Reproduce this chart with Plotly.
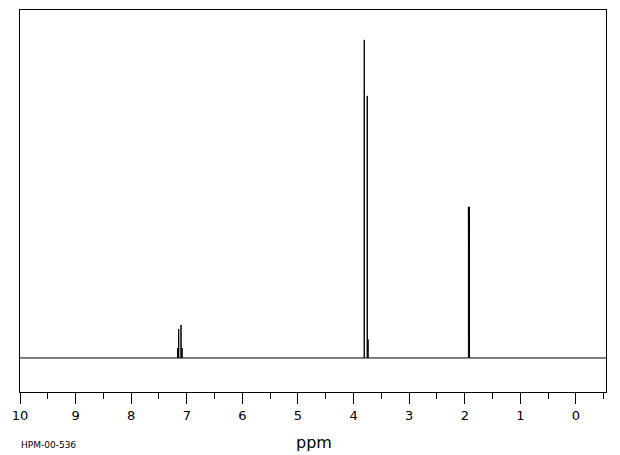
import plotly.graph_objects as go

# Peak list (ppm, relative intensity)
peak_ppm = [7.165, 7.146, 7.104, 7.085, 3.808, 3.754, 3.740, 1.935, 1.925, 1.915]
peak_int = [3.1, 9.1, 10.4, 3.1, 100.0, 82.4, 5.8, 47.5, 47.5, 47.5]

x_range = [10.0, -0.54]
tick_vals = [10, 9, 8, 7, 6, 5, 4, 3, 2, 1, 0]
tick_text = ["10", "9", "8", "7", "6", "5", "4", "3", "2", "1", "0"]
x_title = "ppm"
sample_id = "HPM-00-536"

# Build stick spectrum from peak list
pairs = sorted(zip(peak_ppm, peak_int), key=lambda t: -t[0])
xs = [x_range[0]]
ys = [0]
for p, h in pairs:
    xs += [p, p, p]
    ys += [0, h, 0]
xs.append(x_range[1])
ys.append(0)

fig = go.Figure()
fig.add_trace(go.Scatter(x=xs, y=ys, mode="lines",
                         line=dict(color="black", width=1), hoverinfo="skip"))

fig.update_layout(
    width=620, height=455,
    margin=dict(l=20, r=14, t=10, b=63),
    paper_bgcolor="white", plot_bgcolor="white",
    showlegend=False,
    font=dict(family="DejaVu Sans", color="black"),
)
fig.update_xaxes(
    range=x_range, autorange=False,
    showline=True, linecolor="black", linewidth=1, mirror=True,
    showgrid=False, zeroline=False,
    tickmode="array", tickvals=tick_vals, ticktext=tick_text,
    ticks="outside", ticklen=11, tickcolor="black", tickwidth=1,
    tickfont=dict(size=13, color="black", family="DejaVu Sans"),
    minor=dict(dtick=0.5, tick0=0, ticks="outside", ticklen=6, tickcolor="black", showgrid=False),
)
fig.update_yaxes(
    range=[-10.7, 109.4], autorange=False,
    showline=True, linecolor="black", linewidth=1, mirror=True,
    showgrid=False, zeroline=False, showticklabels=False, ticks="",
)
fig.add_annotation(text=x_title, xref="paper", yref="paper", x=0.501, y=-0.132,
                   yanchor="middle", showarrow=False,
                   font=dict(size=16, color="black", family="DejaVu Sans"))
fig.add_annotation(text=sample_id, xref="paper", yref="paper", x=-0.002, y=-0.139,
                   xanchor="left", yanchor="middle", showarrow=False,
                   font=dict(size=9, color="black", family="DejaVu Sans"))

fig.write_html("out.html", config={"displayModeBar": False},
               post_script="document.body.style.margin='0';document.body.style.padding='0';")
